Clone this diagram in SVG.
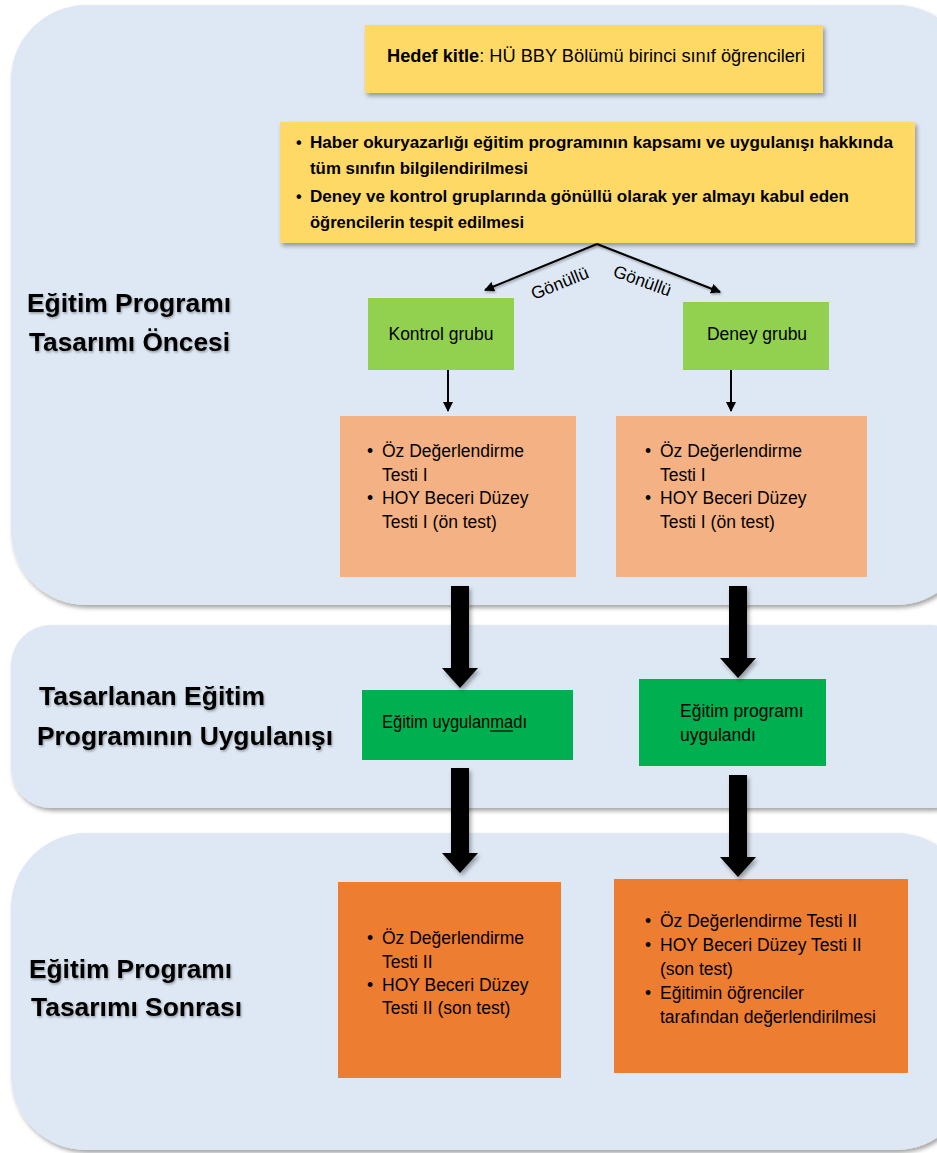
<svg xmlns="http://www.w3.org/2000/svg" width="937" height="1153" viewBox="0 0 937 1153">
<defs>
<filter id="sh" x="-10%" y="-10%" width="130%" height="130%">
<feDropShadow dx="2" dy="3" stdDeviation="2" flood-color="#000" flood-opacity="0.35"/>
</filter>
<filter id="tsh" x="-5%" y="-20%" width="110%" height="150%">
<feDropShadow dx="1" dy="1.5" stdDeviation="1" flood-color="#000" flood-opacity="0.35"/>
</filter>
<marker id="ah" viewBox="0 0 10 10" refX="9" refY="5" markerWidth="5" markerHeight="5" orient="auto">
<path d="M0,0 L10,5 L0,10 z" fill="#000"/>
</marker>
</defs>
<style>
.panel{fill:#DEE8F4;filter:url(#sh)}
.sec{font-family:"Liberation Sans",Arial,sans-serif;font-size:25px;font-weight:bold;fill:#000;filter:url(#tsh)}
.t{font-family:"Liberation Sans",Arial,sans-serif;font-size:17.5px;fill:#000}
.tb{font-family:"Liberation Sans",Arial,sans-serif;font-size:16px;fill:#000;font-weight:bold}
.yel{fill:#FFD966;filter:url(#sh)}
.lg{fill:#92D050}
.dg{fill:#00B050}
.lo{fill:#F4B183}
.do{fill:#ED7D31}
.thin{stroke:#000;stroke-width:2;fill:none;marker-end:url(#ah)}
.thick{fill:#000;filter:url(#sh)}
</style>

<g id="panel-oncesi">
<rect class="panel" x="11" y="5" width="960" height="600" rx="75"/>
<text class="sec" x="27" y="312" textLength="204" lengthAdjust="spacingAndGlyphs">Eğitim Programı</text>
<text class="sec" x="29" y="351" textLength="201" lengthAdjust="spacingAndGlyphs">Tasarımı Öncesi</text>
</g>
<g id="panel-uygulanis">
<rect class="panel" x="11" y="625" width="960" height="183" rx="40"/>
<text class="sec" x="39" y="705" textLength="226" lengthAdjust="spacingAndGlyphs">Tasarlanan Eğitim</text>
<text class="sec" x="37" y="745" textLength="296" lengthAdjust="spacingAndGlyphs">Programının Uygulanışı</text>
</g>
<g id="panel-sonrasi">
<rect class="panel" x="11" y="833" width="960" height="317" rx="75"/>
<text class="sec" x="29" y="978" textLength="203" lengthAdjust="spacingAndGlyphs">Eğitim Programı</text>
<text class="sec" x="31" y="1016" textLength="211" lengthAdjust="spacingAndGlyphs">Tasarımı Sonrası</text>
</g>

<g id="hedef">
<rect class="yel" x="365" y="25" width="458" height="68"/>
<text class="t" x="387" y="62" font-size="17" textLength="418" lengthAdjust="spacingAndGlyphs"><tspan font-weight="bold">Hedef kitle</tspan>: HÜ BBY Bölümü birinci sınıf öğrencileri</text>
</g>

<g id="bilgilendirme">
<rect class="yel" x="280" y="122" width="635" height="121"/>
<g class="tb">
<text x="296" y="148">•</text><text x="310" y="148" textLength="583" lengthAdjust="spacingAndGlyphs">Haber okuryazarlığı eğitim programının kapsamı ve uygulanışı hakkında</text>
<text x="310" y="174" textLength="218" lengthAdjust="spacingAndGlyphs">tüm sınıfın bilgilendirilmesi</text>
<text x="296" y="202">•</text><text x="310" y="202" textLength="539" lengthAdjust="spacingAndGlyphs">Deney ve kontrol gruplarında gönüllü olarak yer almayı kabul eden</text>
<text x="310" y="228" textLength="214" lengthAdjust="spacingAndGlyphs">öğrencilerin tespit edilmesi</text>
</g>
</g>

<g id="kontrol">
<rect class="lg" x="368" y="298" width="146" height="72"/>
<text class="t" x="441" y="340" text-anchor="middle" font-size="17.5">Kontrol grubu</text>
</g>
<g id="deney">
<rect class="lg" x="683" y="302" width="146" height="68"/>
<text class="t" x="757" y="340" text-anchor="middle" font-size="17.5">Deney grubu</text>
</g>

<g id="on-test-kontrol">
<rect class="lo" x="340" y="416" width="236" height="161"/>
<text class="t" x="367" y="457">•</text><text class="t" x="382" y="457">Öz Değerlendirme</text>
<text class="t" x="382" y="481">Testi I</text>
<text class="t" x="367" y="504">•</text><text class="t" x="382" y="504">HOY Beceri Düzey</text>
<text class="t" x="382" y="528">Testi I (ön test)</text>
</g>
<g id="on-test-deney">
<rect class="lo" x="616" y="416" width="251" height="161"/>
<text class="t" x="645" y="457">•</text><text class="t" x="660" y="457">Öz Değerlendirme</text>
<text class="t" x="660" y="481">Testi I</text>
<text class="t" x="645" y="504">•</text><text class="t" x="660" y="504">HOY Beceri Düzey</text>
<text class="t" x="660" y="528">Testi I (ön test)</text>
</g>

<g id="uygulanmadi">
<rect class="dg" x="362" y="690" width="211" height="70"/>
<text class="t" x="382" y="728" font-size="16" textLength="145" lengthAdjust="spacingAndGlyphs">Eğitim uygulanmadı</text>
<line x1="490" y1="731" x2="513" y2="731" stroke="#000" stroke-width="1.2"/>
</g>
<g id="uygulandi">
<rect class="dg" x="639" y="679" width="187" height="87"/>
<text class="t" x="680" y="717" font-size="16.5">Eğitim programı</text>
<text class="t" x="680" y="741" font-size="16.5">uygulandı</text>
</g>

<g id="son-test-kontrol">
<rect class="do" x="338" y="882" width="223" height="196"/>
<text class="t" x="367" y="944">•</text><text class="t" x="382" y="944">Öz Değerlendirme</text>
<text class="t" x="382" y="968">Testi II</text>
<text class="t" x="367" y="991">•</text><text class="t" x="382" y="991">HOY Beceri Düzey</text>
<text class="t" x="382" y="1014">Testi II (son test)</text>
</g>
<g id="son-test-deney">
<rect class="do" x="614" y="879" width="294" height="194"/>
<text class="t" x="645" y="927">•</text><text class="t" x="660" y="927">Öz Değerlendirme Testi II</text>
<text class="t" x="645" y="951">•</text><text class="t" x="660" y="951">HOY Beceri Düzey Testi II</text>
<text class="t" x="660" y="975">(son test)</text>
<text class="t" x="645" y="999">•</text><text class="t" x="660" y="999">Eğitimin öğrenciler</text>
<text class="t" x="660" y="1023">tarafından değerlendirilmesi</text>
</g>

<g id="connectors">
<path class="thin" d="M597,244 L485,290" filter="url(#tsh)"/>
<path class="thin" d="M597,244 L720,292" filter="url(#tsh)"/>
<text class="t" font-size="13" fill="#333" transform="translate(534,300) rotate(-22)">Gönüllü</text>
<text class="t" font-size="13" fill="#333" transform="translate(612,276) rotate(20)">Gönüllü</text>
<path class="thin" d="M448,370 L448,411"/>
<path class="thin" d="M731,370 L731,411"/>
<path class="thick" d="M451,586 H469 V668 H478 L460,688 L442,668 H451 Z"/>
<path class="thick" d="M729,586 H747 V658 H756 L738,678 L720,658 H729 Z"/>
<path class="thick" d="M451,768 H469 V853 H478 L460,873 L442,853 H451 Z"/>
<path class="thick" d="M729,775 H747 V857 H756 L738,877 L720,857 H729 Z"/>
</g>
</svg>
